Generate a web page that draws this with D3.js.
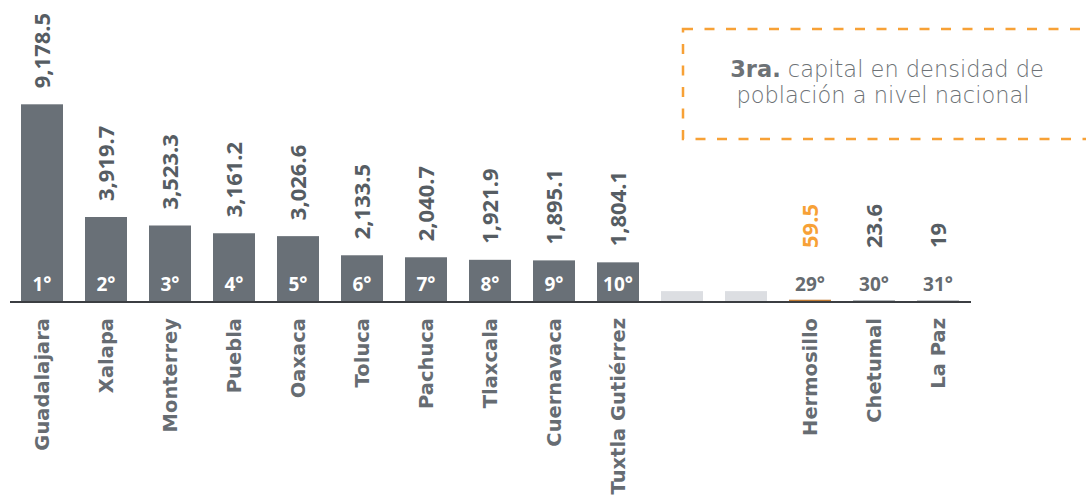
<!DOCTYPE html>
<html>
<head>
<meta charset="utf-8">
<script src="https://cdn.jsdelivr.net/npm/d3@7"></script>
<style>
  html, body { margin: 0; padding: 0; background: #ffffff; }
  svg { display: block; }
</style>
</head>
<body>
<svg id="chart" width="1086" height="498"></svg>
<script>
// Population density by state capital (inhabitants per km²)
const cities = ["Guadalajara", "Xalapa", "Monterrey", "Puebla", "Oaxaca", "Toluca",
  "Pachuca", "Tlaxcala", "Cuernavaca", "Tuxtla Gutiérrez", "gap1", "gap2",
  "Hermosillo", "Chetumal", "La Paz"];
const density = [9178.5, 3919.7, 3523.3, 3161.2, 3026.6, 2133.5, 2040.7, 1921.9,
  1895.1, 1804.1, null, null, 59.5, 23.6, 19];
const ranks = ["1°", "2°", "3°", "4°", "5°", "6°", "7°", "8°", "9°", "10°", "", "",
  "29°", "30°", "31°"];
// short stand-in bars for the omitted ranks 11–28
const gapValue = 460;
const highlight = "Hermosillo";

const grey = "#697077";
const textGrey = "#565d63";
const orange = "#f7a136";
const lightGrey = "#dcdee2";

const svg = d3.select("#chart");
const baseY = 301;

const x = d3.scaleBand()
  .domain(cities)
  .range([10, 970])
  .paddingInner(22 / 64)
  .paddingOuter(11 / 64);

const y = d3.scaleLinear()
  .domain([0, 10000])
  .range([baseY, baseY - 214.3]);

const rows = cities.map((c, i) => ({
  city: c, value: density[i], rank: ranks[i], gap: density[i] === null
}));

// bars
svg.append("g").selectAll("rect")
  .data(rows)
  .join("rect")
  .attr("x", d => x(d.city))
  .attr("width", x.bandwidth())
  .attr("y", d => y(d.gap ? gapValue : d.value))
  .attr("height", d => baseY - y(d.gap ? gapValue : d.value))
  .attr("fill", d => d.gap ? lightGrey : (d.city === highlight ? "#c07a32" : grey));

// baseline
svg.append("line")
  .attr("x1", 10).attr("x2", 971)
  .attr("y1", baseY + 1).attr("y2", baseY + 1)
  .attr("stroke", "#3b3e42")
  .attr("stroke-width", 2);

const valued = rows.filter(d => !d.gap);

// rank labels inside / above the bars
svg.append("g").selectAll("text")
  .data(valued)
  .join("text")
  .attr("x", d => x(d.city) + x.bandwidth() / 2)
  .attr("y", 291)
  .attr("text-anchor", "middle")
  .attr("font-family", "'Open Sans', sans-serif")
  .attr("font-weight", 700)
  .attr("font-size", 19)
  .attr("fill", d => (baseY - y(d.value)) > 30 ? "#ffffff" : "#666b70")
  .text(d => d.rank);

// value labels, rotated
const fmt = d3.format(",");
svg.append("g").selectAll("text")
  .data(valued)
  .join("text")
  .attr("transform", d => {
    const cx = x(d.city) + x.bandwidth() / 2 + 8;
    const ty = Math.min(y(d.value), 264) - 16;
    return `translate(${cx},${ty}) rotate(-90)`;
  })
  .attr("text-anchor", "start")
  .attr("font-family", "'Open Sans', sans-serif")
  .attr("font-weight", 700)
  .attr("font-size", 22)
  .attr("fill", d => d.city === highlight ? orange : textGrey)
  .text(d => fmt(d.value));

// category labels, rotated
svg.append("g").selectAll("text")
  .data(valued)
  .join("text")
  .attr("transform", d => `translate(${x(d.city) + x.bandwidth() / 2 + 7},318) rotate(-90)`)
  .attr("text-anchor", "end")
  .attr("font-family", "'DejaVu Sans', sans-serif")
  .attr("font-weight", 700)
  .attr("font-size", 19.5)
  .attr("fill", "#666c72")
  .text(d => d.city);

// callout box
svg.append("rect")
  .attr("x", 683).attr("y", 29)
  .attr("width", 440).attr("height", 110)
  .attr("fill", "none")
  .attr("stroke", orange)
  .attr("stroke-width", 2.5)
  .attr("stroke-dasharray", "10 11.5");

const note = svg.append("g")
  .attr("font-family", "'DejaVu Sans', sans-serif")
  .attr("font-size", 22.5)
  .attr("fill", "#6d7276")
  .attr("text-anchor", "middle");
const l1 = note.append("text").attr("x", 887).attr("y", 77);
l1.append("tspan").attr("font-weight", 700).text("3ra.");
l1.append("tspan").attr("font-weight", 300).text(" capital en densidad de");
note.append("text").attr("x", 883).attr("y", 103).attr("font-weight", 300)
  .text("población a nivel nacional");
</script>
</body>
</html>
